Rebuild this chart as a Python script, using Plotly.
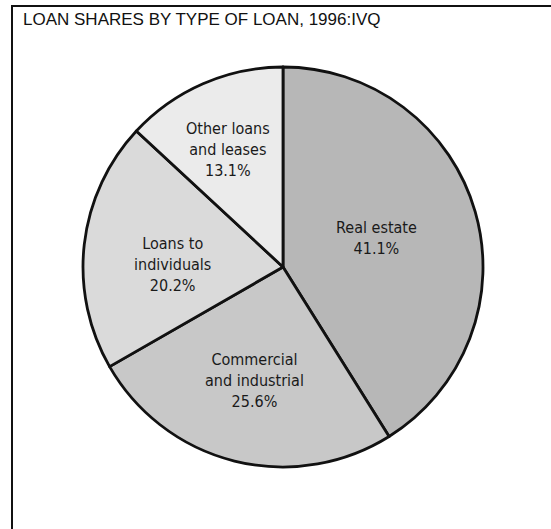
import plotly.graph_objects as go

# Loan shares by type, 1996:IVQ (percent of total loans)
labels = ["Real estate", "Commercial<br>and industrial", "Loans to<br>individuals", "Other loans<br>and leases"]
shares = [41.1, 25.6, 20.2, 13.1]
fills = ["#b7b7b7", "#c8c8c8", "#dadada", "#ebebeb"]

# label anchor points (pixels from the top-left of the page)
label_xy = [(376, 238), (254, 380), (172, 264), (228, 149)]

W, H = 551, 529
cx, cy, r = 283, 267, 200

fig = go.Figure(
    go.Pie(
        labels=labels,
        values=shares,
        sort=False,
        direction="clockwise",
        rotation=0,
        textinfo="none",
        hoverinfo="label+percent",
        marker=dict(colors=fills, line=dict(color="#111111", width=2.8)),
        domain=dict(
            x=[(cx - r) / W, (cx + r) / W],
            y=[(H - cy - r) / H, (H - cy + r) / H],
        ),
        showlegend=False,
    )
)

narrow = "Liberation Sans Narrow, Noto Sans Condensed, DejaVu Sans Condensed, Arial Narrow, sans-serif"
for lab, val, (px, py) in zip(labels, shares, label_xy):
    fig.add_annotation(
        x=px / W, y=1 - py / H, xref="paper", yref="paper",
        text=f"{lab}<br>{val:.1f}%",
        showarrow=False, align="center",
        xanchor="center", yanchor="middle",
        font=dict(family=narrow, size=16, color="#1a1a1a"),
    )

# title
fig.add_annotation(
    x=21 / W, y=1 - 19 / H, xref="paper", yref="paper",
    text="LOAN SHARES BY TYPE OF LOAN, 1996:IVQ",
    showarrow=False, xanchor="left", yanchor="middle",
    font=dict(family="Liberation Sans, Arial", size=17, color="#111111"),
)

# frame around the panel
fig.add_shape(
    type="rect", xref="paper", yref="paper",
    x0=12 / W, x1=1.02, y0=-0.02, y1=1 - 6 / H,
    line=dict(color="#111111", width=2), fillcolor="rgba(0,0,0,0)",
)

fig.update_layout(
    width=W, height=H,
    margin=dict(l=0, r=0, t=0, b=0),
    paper_bgcolor="white", plot_bgcolor="white",
)

fig.write_html("out.html")
